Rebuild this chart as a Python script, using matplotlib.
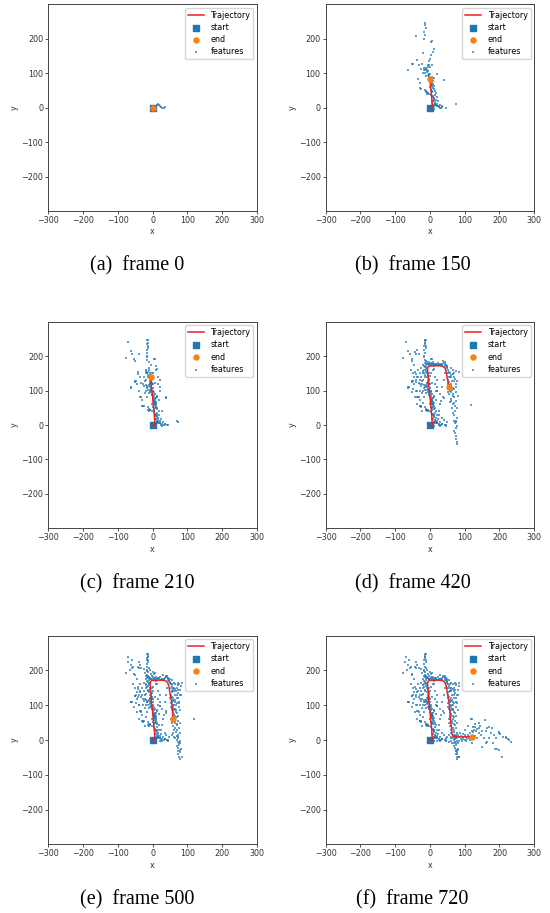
import matplotlib
matplotlib.use("Agg")
import matplotlib.pyplot as plt

# ---------------- data ----------------
captions = ["(a)  frame 0", "(b)  frame 150", "(c)  frame 210",
            "(d)  frame 420", "(e)  frame 500", "(f)  frame 720"]

# trajectory waypoints (x, y) in order of travel
traj_x = [0, 7, 5, 2, 0,
          -3, -5,
          -7, -6, -2, 10, 25, 36, 43, 47, 50, 55,
          57, 59,
          62, 64, 67, 80, 100, 120]
traj_y = [0, 1, 30, 60, 84,
          110, 140,
          160, 168, 171, 172, 172, 171, 166, 155, 135, 109,
          85, 59,
          35, 15, 10, 9, 9, 10]
# number of trajectory waypoints reached in each panel
traj_count = [1, 5, 7, 17, 19, 25]

# features first seen by each panel's frame
feat_0 = [(4, 2), (8, 5), (12, 9), (15, 10), (18, 7), (21, 6), (25, 1), (28, -2),
          (32, -1), (36, 2), (11, -3), (6, -1)]
feat_150 = [(-15, 246), (-14, 239), (-12, 230), (-17, 219), (-15, 210), (-16, 198), (-39, 207),
            (7, 193), (4, 191), (11, 171), (10, 161), (-19, 158), (2, 152), (-36, 139), (-48, 128),
            (-51, 126), (-22, 128), (-63, 108), (-32, 123), (-3, 123), (7, 123), (-12, 113),
            (-17, 108), (-8, 103), (-1, 99), (21, 99), (-34, 82), (-30, 73), (-25, 55), (-28, 56),
            (40, 79), (7, 74), (5, 65), (11, 55), (-8, 45), (-3, 41), (5, 45), (14, 36), (11, 26),
            (16, 21), (21, 12), (26, 4), (35, 4), (45, 0), (74, 10), (14, 12), (7, 16),
            (-10, 115), (-8, 110), (-5, 105), (-6, 96), (-3, 92), (-2, 88), (0, 80), (2, 75),
            (3, 70), (4, 66), (6, 62), (8, 58), (-10, 47), (-12, 44), (-6, 43), (-9, 40), (3, 38),
            (8, 33), (10, 30), (12, 28), (13, 22), (9, 18), (15, 15), (17, 8), (20, 5), (10, 2),
            (5, 5), (-13, 101), (-11, 92), (-15, 110), (12, 85), (10, 68), (14, 48), (18, 42),
            (-18, 115), (-5, 125), (-2, 135), (0, 142), (-20, 100),
            (1, 118), (-4, 98), (6, 90), (9, 78), (11, 64), (2, 52), (6, 48), (-14, 52),
            (19, 30), (23, 18), (30, 8), (13, 5), (-7, 118), (-25, 112), (-1, 60)]
feat_210 = [(-70, 240), (-77, 194), (-63, 215), (-58, 206), (-53, 191), (-51, 186), (-12, 246),
            (-15, 235), (-12, 223), (-17, 201), (-15, 188), (12, 162), (-43, 153), (-41, 148),
            (-63, 109), (-51, 127), (-37, 82), (-29, 56), (12, 82), (21, 109), (38, 82), (26, 42),
            (69, 11), (43, 0), (-10, 160), (-12, 155), (-8, 150), (-14, 145), (-6, 145), (-9, 138),
            (-4, 132), (-7, 128), (-2, 118), (-5, 112), (0, 108), (2, 100), (4, 95), (1, 90),
            (3, 85), (6, 78), (5, 72), (7, 68), (9, 60), (10, 52), (12, 47), (-3, 150), (-18, 160),
            (-20, 150), (15, 140), (20, 130), (-25, 140),
            (-11, 165), (-16, 152), (-13, 140), (-8, 122), (-19, 132), (-28, 118), (-45, 118),
            (-40, 100), (-22, 92), (-16, 80), (15, 118), (18, 74), (-4, 175), (-9, 182)]
feat_420 = [(-36, 217), (-32, 206), (-43, 211), (-14, 243), (-17, 230),
            (-15, 180), (-12, 178), (-8, 177), (-4, 176), (0, 176), (4, 175), (8, 176), (12, 176),
            (16, 175), (20, 174), (24, 174), (28, 175), (32, 176), (36, 177), (40, 180), (38, 185),
            (42, 183), (44, 178), (46, 174), (48, 170), (-10, 172), (-14, 168), (2, 180), (15, 178),
            (50, 165), (52, 160), (55, 155), (58, 150), (60, 145), (62, 140), (55, 138), (52, 130),
            (56, 125), (60, 120), (58, 115), (62, 112), (65, 108), (52, 105), (58, 100), (60, 95),
            (66, 90), (55, 90), (59, 66), (74, 70), (71, 42), (74, 157), (69, 128), (83, 155),
            (65, 160), (70, 150), (68, 140), (72, 135), (64, 128), (74, 120), (70, 105), (75, 95),
            (80, 85), (68, 80), (62, 75), (66, 60), (72, 55), (78, 50), (64, 48),
            (74, 13), (79, -2), (69, -16), (74, -31), (79, -55), (74, -41), (76, -8), (72, 5),
            (78, 20), (70, 28), (66, 35), (73, -22), (77, -48), (119, 59),
            (35, 3), (45, -2), (16, 100), (20, 98), (33, 71), (30, 60), (25, 30), (35, 20),
            (40, 15), (48, 8), (-46, 138), (-41, 124), (-60, 109), (-32, 80), (-27, 51), (-38, 100),
            (-30, 150), (-25, 165), (-20, 175), (-35, 160), (-45, 175), (-55, 160), (-40, 130),
            (-22, 118), (-28, 100),
            (-6, 178), (6, 178), (18, 177), (26, 176), (34, 174), (44, 172), (50, 168), (53, 150),
            (57, 140), (51, 120), (57, 110), (63, 102), (53, 96), (67, 85), (60, 70), (69, 65),
            (75, 110), (79, 128), (66, 148), (61, 165), (-17, 170), (-12, 185), (-2, 183),
            (10, 182), (22, 180), (-50, 150), (-35, 140), (-30, 130), (-48, 105), (-52, 95),
            (-44, 80), (-38, 60), (-20, 65), (-22, 40), (28, 90), (35, 110), (40, 130), (42, 150)]
feat_500 = [(56, 50), (58, 40), (62, 30), (60, 20), (55, 15), (65, 5), (70, 0), (80, -10),
            (82, -25), (78, -35), (84, -50), (63, 90), (61, 85), (67, 100), (64, 115), (69, 120),
            (72, 165), (76, 160), (80, 145), (82, 130), (50, 175), (55, 172), (-18, 185),
            (-22, 192), (-5, 190), (30, 188), (45, 178), (-60, 230), (-72, 225), (-8, 200),
            (-10, 208), (0, 195), (84, 165), (10, -5), (20, -2),
            (54, 60), (63, 55), (70, 45), (75, 35), (68, 22), (61, 10), (76, -15), (80, -30),
            (72, -5), (66, 68), (71, 78), (59, 80), (77, 105), (73, 145), (62, 150), (57, 160),
            (-14, 195), (-25, 205), (-40, 225), (-55, 210), (-66, 200)]
feat_720 = [(122, 61), (131, 36), (136, 31), (141, 34), (157, 58), (165, 34), (170, 36),
            (179, 34), (198, 19), (203, 17), (189, 5), (218, 5), (227, 0), (232, -5), (194, -27),
            (198, -29), (208, -48), (151, -19), (160, -10), (136, 5), (146, 14), (79, -39),
            (83, -48), (74, -29), (64, -10), (55, -5), (45, 5),
            (70, 15), (75, 12), (80, 15), (85, 10), (90, 12), (95, 8), (100, 14), (105, 10),
            (110, 15), (115, 20), (120, 25), (125, 22), (128, 30), (88, 3), (92, -2), (100, 0),
            (108, 3), (115, 0), (130, 12), (140, 20), (150, 25), (160, 25), (175, 20), (185, 15),
            (60, 5), (62, -3), (68, -8), (100, 30), (110, 40), (130, 45), (140, 48), (120, -10),
            (170, 5), (180, -10), (210, 10), (220, 10),
            (72, 3), (78, 6), (84, -3), (96, 4), (104, -4), (112, 6), (124, 36), (133, 25),
            (145, 40), (200, 22), (225, 3), (187, -25), (155, 5), (165, -5), (86, 20), (94, 18)]
feature_groups = [feat_0, feat_150, feat_210, feat_420, feat_500, feat_720]

x_ticks = [-300, -200, -100, 0, 100, 200, 300]
y_ticks = [-200, -100, 0, 100, 200]

# ---------------- layout ----------------
W, H = 550, 913
fig = plt.figure(figsize=(W / 100, H / 100), dpi=100)
col_left = [48.3, 325.7]
ax_w = 208.5
row_bottom = [211, 528.3, 844.3]
ax_h = [206.7, 206.6, 208.6]

blue = "#1f77b4"
orange = "#ff7f0e"

for k in range(6):
    r, c = divmod(k, 2)
    ax = fig.add_axes([col_left[c] / W, 1 - row_bottom[r] / H, ax_w / W, ax_h[r] / H])
    n = traj_count[k]
    tx, ty = traj_x[:n], traj_y[:n]
    feats = [p for g in feature_groups[:k + 1] for p in g]
    fx = [p[0] for p in feats]
    fy = [p[1] for p in feats]

    ax.scatter(fx, fy, s=1.3, marker="s", color=blue, alpha=0.7, linewidths=0,
               label="features", zorder=2)
    ax.scatter([traj_x[0]], [traj_y[0]], s=13, marker="s", color=blue, label="start", zorder=3)
    ax.plot(tx, ty, color="#e8231f", lw=1.1, label="Trajectory", zorder=4)
    ax.scatter([tx[-1]], [ty[-1]], s=13, marker="o", color=orange, label="end", zorder=5)

    ax.set_xlim(-300, 300)
    ax.set_ylim(-300, 300)
    ax.set_xticks(x_ticks)
    ax.set_yticks(y_ticks)
    ax.tick_params(labelsize=5.8, length=2.2, width=0.6, pad=1.5, colors="#333333")
    for sp in ax.spines.values():
        sp.set_linewidth(0.7)
        sp.set_color("#444444")
    ax.set_xlabel("x", fontsize=5.8, labelpad=1.5, color="#333333")
    ax.set_ylabel("y", fontsize=5.8, labelpad=1.5, color="#333333")

    h, l = ax.get_legend_handles_labels()
    order = [l.index(s) for s in ["Trajectory", "start", "end", "features"]]
    ax.legend([h[i] for i in order], [l[i] for i in order], loc="upper right",
              fontsize=5.8, borderaxespad=0.45, handlelength=2.0, borderpad=0.35,
              labelspacing=0.4, handletextpad=0.8, framealpha=0.8, markerscale=1.0)

    cx = (c * 275 + 137.5) / W
    cy = 1 - (row_bottom[r] + 55) / H
    fig.text(cx, cy, captions[k], ha="center", va="center", fontsize=14.5,
             family="Liberation Serif")

fig.savefig("out.png", dpi=100)
